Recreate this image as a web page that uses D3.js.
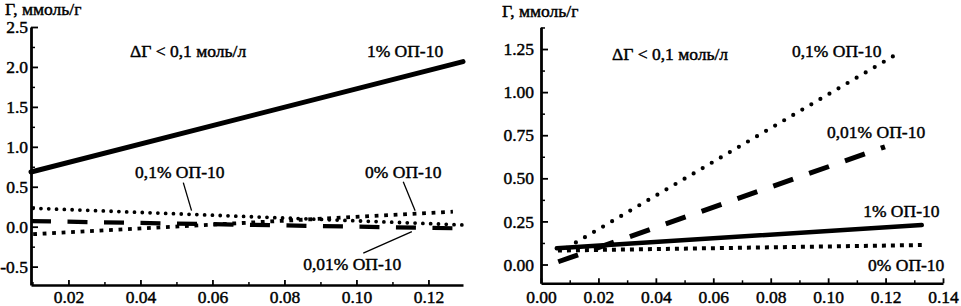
<!DOCTYPE html>
<html>
<head>
<meta charset="utf-8">
<script src="https://cdn.jsdelivr.net/npm/d3@7"></script>
<style>
  html, body { margin: 0; padding: 0; background: #fff; }
  svg { display: block; }
</style>
</head>
<body>
<svg id="chart" width="961" height="306"></svg>
<script>
// ---------- DATA ----------
const yTitle = "Г, ммоль/г";
const noteText = "ΔГ < 0,1 моль/л";

// Left panel
const leftXTicks = [0.02, 0.04, 0.06, 0.08, 0.10, 0.12];
const leftXTickLabels = ["0.02", "0.04", "0.06", "0.08", "0.10", "0.12"];
const leftXMinor = [0.01, 0.03, 0.05, 0.07, 0.09, 0.11];
const leftYTicks = [-0.5, 0.0, 0.5, 1.0, 1.5, 2.0, 2.5];
const leftYTickLabels = ["-0.5", "0.0", "0.5", "1.0", "1.5", "2.0", "2.5"];
const leftYMinor = [-0.25, 0.25, 0.75, 1.25, 1.75, 2.25];

const leftSeriesNames = ["1% ОП-10", "0,1% ОП-10", "0% ОП-10", "0,01% ОП-10"];
const leftSeriesStyles = ["solid", "dots", "squares", "dashed"];
const leftX = [
  [0.0096, 0.1296],
  [0.0102, 0.1293],
  [0.0102, 0.1268],
  [0.0096, 0.1270]
];
const leftY = [
  [0.685, 2.066],
  [0.231, 0.022],
  [-0.094, 0.188],
  [0.070, -0.020]
];
const leftLabelPos = [[0.1029, 2.124], [0.0385, 0.61], [0.1024, 0.61], [0.0852, -0.541]];
const leftNotePos = [0.0371, 2.124];
const leftLeaders = [
  [[0.0519, 0.551], [0.0542, 0.201]],
  [[0.1130, 0.564], [0.1163, 0.201]],
  [[0.1019, -0.332], [0.1154, -0.062]]
];

// Right panel
const rightXTicks = [0.00, 0.02, 0.04, 0.06, 0.08, 0.10, 0.12, 0.14];
const rightXTickLabels = ["0.00", "0.02", "0.04", "0.06", "0.08", "0.10", "0.12", "0.14"];
const rightXMinor = [0.01, 0.03, 0.05, 0.07, 0.09, 0.11, 0.13];
const rightYTicks = [0.00, 0.25, 0.50, 0.75, 1.00, 1.25];
const rightYTickLabels = ["0.00", "0.25", "0.50", "0.75", "1.00", "1.25"];
const rightYMinor = [0.125, 0.375, 0.625, 0.875, 1.125, 1.375];

const rightSeriesNames = ["0,1% ОП-10", "0,01% ОП-10", "1% ОП-10", "0% ОП-10"];
const rightSeriesStyles = ["dots", "dashed", "solid", "squares"];
const rightX = [
  [0.009, 0.1253],
  [0.006, 0.1198],
  [0.0055, 0.1326],
  [0.0059, 0.1326]
];
const rightY = [
  [0.097, 1.234],
  [0.016, 0.683],
  [0.094, 0.229],
  [0.081, 0.113]
];
const rightLabelPos = [[0.0874, 1.204], [0.0996, 0.734], [0.1122, 0.276], [0.1139, -0.038]];
const rightNotePos = [0.0247, 1.186];

// ---------- DRAW ----------
const svg = d3.select("#chart");
const FONT = "17.5px";
const FAMILY = "'Liberation Serif'";

const styleMap = {
  left: {
    solid:   { w: 5,   dash: null,      cap: "round" },
    dots:    { w: 3.8, dash: "0,7.8",   cap: "round" },
    squares: { w: 3.8, dash: "3.8,5.7", cap: "butt" },
    dashed:  { w: 4.2, dash: "20,16.5", cap: "butt" }
  },
  right: {
    solid:   { w: 4.5, dash: null,      cap: "round" },
    dots:    { w: 4.2, dash: "0,10.5",  cap: "round" },
    squares: { w: 4,   dash: "4,5",     cap: "butt" },
    dashed:  { w: 5,   dash: "21,17",   cap: "butt" }
  }
};

function styleText(sel) {
  sel.style("font-family", FAMILY).style("font-size", FONT)
     .attr("fill", "#000").attr("stroke", "#000").attr("stroke-width", 0.45);
}

function panel(cfg) {
  const x = d3.scaleLinear().domain(cfg.xDomain).range(cfg.xRange);
  const y = d3.scaleLinear().domain(cfg.yDomain).range(cfg.yRange);
  const g = svg.append("g");

  // minor ticks
  g.append("g").attr("transform", `translate(0,${cfg.yRange[0]})`)
    .call(d3.axisBottom(x).tickValues(cfg.xMinor).tickSize(-3).tickFormat(""))
    .call(s => { s.select(".domain").remove(); s.selectAll("line").attr("stroke-width", 1.5); });
  g.append("g").attr("transform", `translate(${cfg.xRange[0]},0)`)
    .call(d3.axisLeft(y).tickValues(cfg.yMinor).tickSize(-4).tickFormat(""))
    .call(s => { s.select(".domain").remove(); s.selectAll("line").attr("stroke-width", 1.5); });

  // major x axis
  g.append("g").attr("transform", `translate(0,${cfg.yRange[0]})`)
    .call(d3.axisBottom(x).tickValues(cfg.xTicks).tickSize(-5).tickSizeOuter(0)
      .tickPadding(cfg.xPad).tickFormat((d, i) => cfg.xTickLabels[i]))
    .call(s => {
      s.select(".domain").attr("stroke-width", 2.6);
      s.selectAll("line").attr("stroke-width", 1.8);
      s.selectAll("text").call(styleText);
    });
  // major y axis
  g.append("g").attr("transform", `translate(${cfg.xRange[0]},0)`)
    .call(d3.axisLeft(y).tickValues(cfg.yTicks).tickSize(-7).tickSizeOuter(0)
      .tickPadding(cfg.yPad).tickFormat((d, i) => cfg.yTickLabels[i]))
    .call(s => {
      s.select(".domain").attr("stroke-width", 2.8);
      s.selectAll("line").attr("stroke-width", 1.8);
      s.selectAll("text").call(styleText);
    });

  // series
  const line = d3.line().x(d => x(d[0])).y(d => y(d[1]));
  cfg.names.forEach((name, i) => {
    const pts = cfg.xs[i].map((xv, j) => [xv, cfg.ys[i][j]]);
    const st = styleMap[cfg.side][cfg.styles[i]];
    const p = g.append("path").datum(pts).attr("d", line)
      .attr("fill", "none").attr("stroke", "#000")
      .attr("stroke-width", st.w).attr("stroke-linecap", st.cap);
    if (st.dash) p.attr("stroke-dasharray", st.dash);
  });

  // leaders
  (cfg.leaders || []).forEach(l => {
    g.append("line")
      .attr("x1", x(l[0][0])).attr("y1", y(l[0][1]))
      .attr("x2", x(l[1][0])).attr("y2", y(l[1][1]))
      .attr("stroke", "#000").attr("stroke-width", 1.3);
  });

  // labels
  cfg.names.forEach((name, i) => {
    g.append("text").attr("x", x(cfg.labelPos[i][0])).attr("y", y(cfg.labelPos[i][1]))
      .call(styleText).text(name);
  });
  g.append("text").attr("x", x(cfg.notePos[0])).attr("y", y(cfg.notePos[1]))
    .call(styleText).text(noteText);
  g.append("text").attr("x", cfg.titlePos[0]).attr("y", cfg.titlePos[1])
    .call(styleText).text(yTitle);
}

panel({
  side: "left",
  xDomain: [0.0096, 0.1296], xRange: [31, 463],
  yDomain: [-0.73, 2.5], yRange: [285, 27],
  xTicks: leftXTicks, xTickLabels: leftXTickLabels, xMinor: leftXMinor,
  yTicks: leftYTicks, yTickLabels: leftYTickLabels, yMinor: leftYMinor,
  yPad: 3, xPad: 6,
  names: leftSeriesNames, styles: leftSeriesStyles, xs: leftX, ys: leftY,
  labelPos: leftLabelPos, notePos: leftNotePos, leaders: leftLeaders,
  titlePos: [5, 15]
});

panel({
  side: "right",
  xDomain: [0, 0.14], xRange: [541, 943],
  yDomain: [-0.109, 1.376], yRange: [283.3, 27.3],
  xTicks: rightXTicks, xTickLabels: rightXTickLabels, xMinor: rightXMinor,
  yTicks: rightYTicks, yTickLabels: rightYTickLabels, yMinor: rightYMinor,
  yPad: 7, xPad: 7.5,
  names: rightSeriesNames, styles: rightSeriesStyles, xs: rightX, ys: rightY,
  labelPos: rightLabelPos, notePos: rightNotePos, leaders: [],
  titlePos: [502, 17]
});
</script>
</body>
</html>
